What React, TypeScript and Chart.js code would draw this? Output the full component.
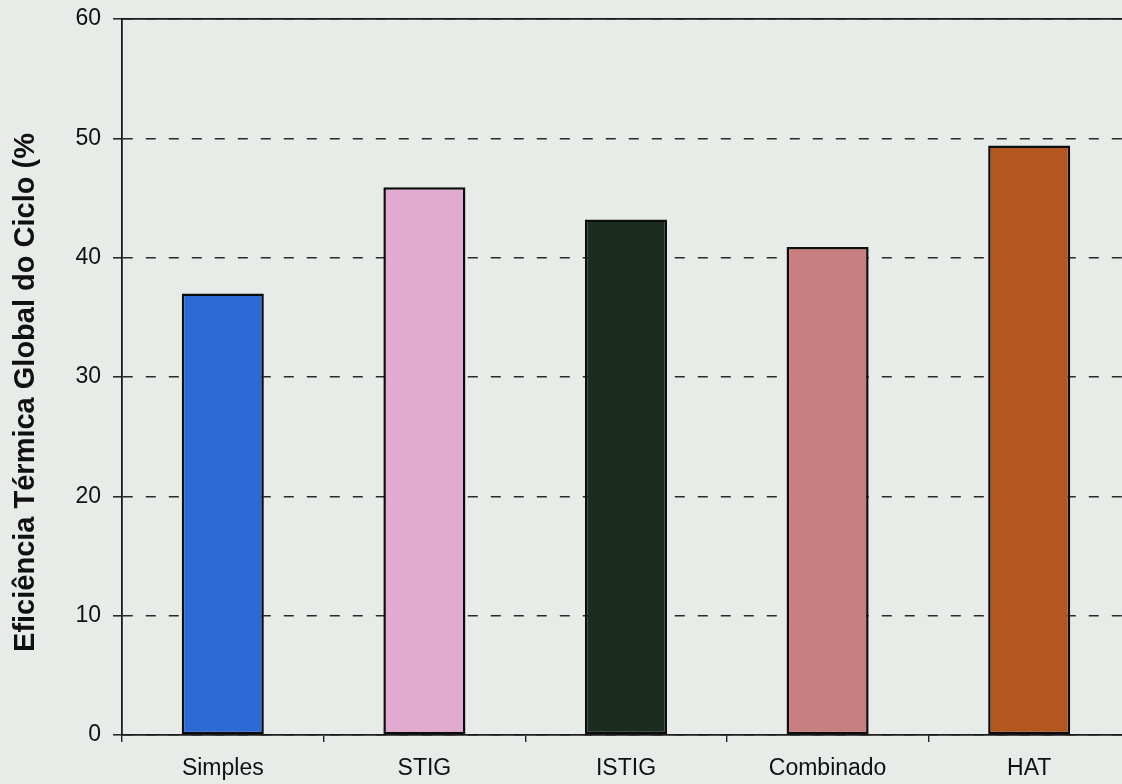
import React, { useEffect, useRef } from "react";
import { Chart, registerables } from "chart.js";

Chart.register(...registerables);

// Cycle types and their overall thermal efficiency (%)
const categories = ["Simples", "STIG", "ISTIG", "Combinado", "HAT"];
const efficiency = [37.0, 45.9, 43.2, 40.9, 49.4];
const barColors = ["#2c6ad6", "#e2aad0", "#1b2c20", "#c87f80", "#b4561f"];

// Value axis
const yMin = 0;
const yMax = 60;
const yStep = 10;
const yTitle = "Eficiência Térmica Global do Ciclo (%";

const FONT = "'Liberation Sans', Arial, Helvetica, sans-serif";
const INK = "#111111";
const PAGE = "#e8ece9";

// Rotated value-axis title, placed in the left margin
const yTitlePlugin = {
  id: "yTitleText",
  afterDraw(chart: any) {
    const { ctx, chartArea } = chart;
    ctx.save();
    ctx.translate(33.5, (chartArea.top + chartArea.bottom) / 2 + 15.5);
    ctx.rotate(-Math.PI / 2);
    ctx.font = `bold 29px ${FONT}`;
    ctx.textAlign = "center";
    ctx.textBaseline = "alphabetic";
    ctx.fillStyle = INK;
    ctx.fillText(yTitle, 0, 0);
    ctx.restore();
  },
};

export default function App() {
  const canvasRef = useRef<HTMLCanvasElement | null>(null);

  useEffect(() => {
    const canvas = canvasRef.current;
    if (!canvas) return;
    const chart = new Chart(canvas, {
      type: "bar",
      data: {
        labels: categories,
        datasets: [
          {
            data: efficiency,
            backgroundColor: barColors,
            borderColor: "#0c0c0c",
            borderWidth: 2.5,
            borderSkipped: false,
            barPercentage: 0.407,
            categoryPercentage: 1,
          },
        ],
      },
      options: {
        responsive: false,
        animation: false,
        devicePixelRatio: 1,
        layout: { padding: { top: 19, right: 1, bottom: 0, left: 0 } },
        plugins: {
          legend: { display: false },
          tooltip: { enabled: false },
          title: { display: false },
        },
        scales: {
          x: {
            type: "category",
            position: "bottom",
            offset: true,
            grid: {
              display: true,
              offset: true,
              drawOnChartArea: false,
              drawTicks: true,
              tickLength: 7,
              color: "#222",
              lineWidth: 1.4,
            },
            border: { display: true, color: "#1c1c1c", width: 1.8 },
            ticks: {
              color: INK,
              padding: 13,
              font: { family: FONT, size: 23 },
              maxRotation: 0,
              autoSkip: false,
            },
            afterFit(scale: any) {
              scale.height = 49;
              scale.paddingLeft = 0;
              scale.paddingRight = 0;
            },
          },
          xTop: {
            type: "category",
            position: "top",
            grid: { display: false, drawTicks: false },
            ticks: { display: false },
            border: { display: true, color: "#1c1c1c", width: 1.8 },
            afterFit(scale: any) {
              scale.height = 0;
              scale.paddingLeft = 0;
              scale.paddingRight = 0;
            },
          },
          y: {
            type: "linear",
            position: "left",
            min: yMin,
            max: yMax,
            ticks: {
              stepSize: yStep,
              color: INK,
              padding: 12,
              font: { family: FONT, size: 23 },
            },
            grid: {
              color: "#2a2a2a",
              lineWidth: 1.6,
              drawTicks: true,
              tickLength: 9,
            },
            border: { display: true, color: "#1c1c1c", width: 1.8, dash: [10, 13] },
            afterFit(scale: any) {
              scale.width = 122;
              scale.paddingTop = 0;
              scale.paddingBottom = 0;
            },
          },
        },
      },
      plugins: [yTitlePlugin],
    });
    return () => chart.destroy();
  }, []);

  return (
    <div
      style={{
        position: "fixed",
        left: 0,
        top: 0,
        right: 0,
        bottom: 0,
        overflow: "hidden",
        background: PAGE,
      }}
    >
      <canvas ref={canvasRef} width={1131} height={784} style={{ display: "block" }} />
    </div>
  );
}
